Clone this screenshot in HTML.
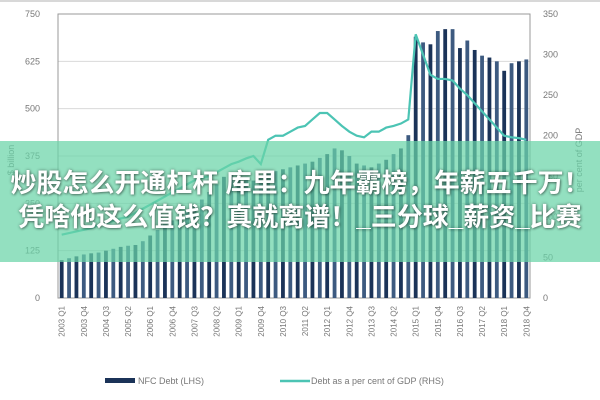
<!DOCTYPE html>
<html><head><meta charset="utf-8"><style>
body{margin:0;width:600px;height:400px;background:#fff;overflow:hidden;font-family:"Liberation Sans",sans-serif;position:relative}
#banner{position:absolute;left:0;top:141px;width:600px;height:121px;background:rgba(105,212,168,0.72);color:#fff;font-family:"Liberation Sans","Noto Sans CJK SC",sans-serif;font-weight:bold;font-size:26px;text-align:center;line-height:34px;padding-top:25px;box-sizing:border-box;white-space:nowrap;text-shadow:0 0 3px rgba(0,0,0,0.45),1px 1px 2px rgba(0,0,0,0.3)}
</style></head><body>
<svg id="chart" width="600" height="400" style="position:absolute;left:0;top:0"></svg>
<div id="banner">炒股怎么开通杠杆 库里：九年霸榜，年薪五千万！<br>凭啥他这么值钱？真就离谱！_三分球_薪资_比赛</div>
<script>
const years=[2003,2004,2005,2006,2007,2008,2009,2010,2011,2012,2013,2014,2015,2016,2017,2018];
const debt=[100,105,110,115,118,120,125,130,135,138,140,150,165,180,195,205,215,230,245,260,280,300,320,330,320,315,310,320,330,335,340,345,350,355,360,370,380,395,390,375,355,350,345,355,365,380,395,430,690,675,670,705,710,710,660,680,655,640,635,625,600,620,625,630];
const pct=[78,80,82,84,86,90,92,95,98,100,105,110,115,120,125,130,135,140,145,148,150,155,160,165,168,172,175,165,195,200,200,205,210,212,220,228,228,220,212,205,200,198,205,205,210,212,215,220,325,300,275,270,270,268,258,250,240,230,220,210,200,198,197,195];
const leftTicks=[0,125,250,375,500,625,750];
const rightTicks=[0,50,100,150,200,250,300,350];
const NS="http://www.w3.org/2000/svg";
const svg=document.getElementById('chart');
const X0=58,X1=530,Y0=298,Y1=14;
const cats=[];years.forEach(y=>{for(let q=1;q<=4;q++)cats.push(y+' Q'+q);});
const bw=(X1-X0)/cats.length;
const xs=i=>X0+bw*(i+0.5);
const yl=v=>Y0-(v/750)*(Y0-Y1);
const yr=v=>Y0-(v/350)*(Y0-Y1);
function mk(t,a){const e=document.createElementNS(NS,t);for(const k in a)e.setAttribute(k,a[k]);svg.appendChild(e);return e;}
leftTicks.forEach(v=>{
 const g=mk('line',{x1:X0,x2:X1,y1:yl(v),y2:yl(v),stroke:'#d9d9d9','stroke-width':1});
 
 
 const t=mk('text',{x:40,y:yl(v)+3,'font-size':9,fill:'#777','text-anchor':'end'});t.textContent=v;
 
 
});
rightTicks.forEach(v=>{
 const t=mk('text',{x:543,y:yr(v)+3,'font-size':9,fill:'#777'});t.textContent=v;
 
 
});
const fr=mk('rect',{x:X0,y:Y1,width:X1-X0,height:Y0-Y1,fill:'none',stroke:'#999','stroke-width':1});


debt.forEach((v,i)=>{
 const r=mk('rect',{x:xs(i)-1.9,y:yl(v),width:3.8,height:Y0-yl(v),fill:i%2?'#3d5a80':'#1b3358'});
 
 
});
const ln=mk('polyline',{points:pct.map((v,i)=>xs(i)+','+yr(v)).join(' '),fill:'none',stroke:'#4cc4b4','stroke-width':2.2});


cats.forEach((c,i)=>{if(i%3)return;
 const x=xs(i)+3,y=Y0+8;
 const t=mk('text',{x:x,y:y,'font-size':8,fill:'#777','text-anchor':'end',transform:`rotate(-90 ${x} ${y})`});t.textContent=c;
 
 
});
const lt=mk('text',{x:14,y:160,'font-size':9,fill:'#777','text-anchor':'middle',transform:'rotate(-90 14 160)'});lt.textContent='$ billion';


const rt=mk('text',{x:582,y:160,'font-size':9,fill:'#777','text-anchor':'middle',transform:'rotate(-90 582 160)'});rt.textContent='per cent of GDP';


const s1=mk('rect',{x:105,y:378,width:30,height:5,fill:'#1b3358'});


const l1=mk('text',{x:138,y:384,'font-size':9,fill:'#777'});l1.textContent='NFC Debt (LHS)';


const s2=mk('line',{x1:280,x2:310,y1:381,y2:381,stroke:'#4cc4b4','stroke-width':2.5});


const l2=mk('text',{x:311,y:384,'font-size':9,fill:'#777'});l2.textContent='Debt as a per cent of GDP (RHS)';


const tb=mk('line',{x1:0,x2:600,y1:1,y2:1,stroke:'#ccc','stroke-width':1.5});


</script>
</body></html>
